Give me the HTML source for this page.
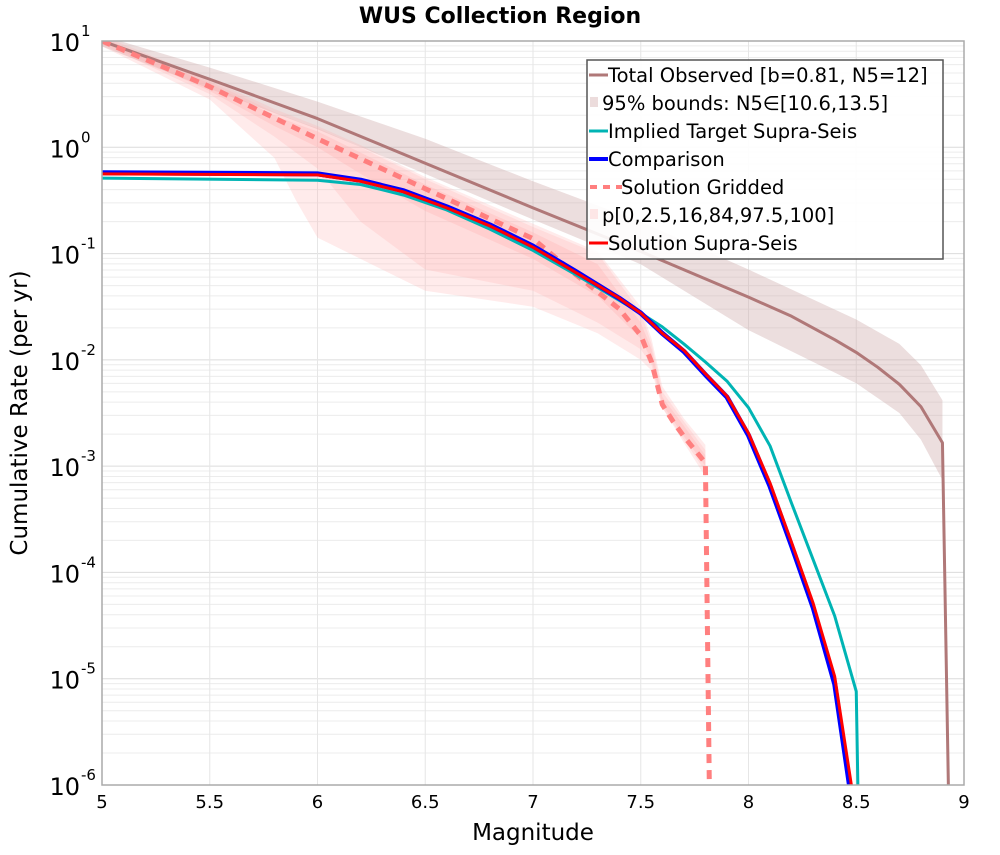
<!DOCTYPE html>
<html><head><meta charset="utf-8"><style>
body{margin:0;background:#fff;}
svg text{font-family:"DejaVu Sans","Liberation Sans",sans-serif;}
</style></head><body>
<svg id="chart" width="1000" height="850" xmlns="http://www.w3.org/2000/svg">
<rect width="1000" height="850" fill="#fff"/>
<text x="500" y="23" text-anchor="middle" font-size="22" font-weight="bold">WUS Collection Region</text>
<g id="grid"></g>
<g id="bands"></g>
<g id="lines"></g>
<rect x="102" y="41" width="862" height="744" fill="none" stroke="#aaa" stroke-width="1.5"/>
<g id="ticks"></g>
<text x="533" y="840" text-anchor="middle" font-size="23">Magnitude</text>
<text transform="translate(27,413) rotate(-90)" text-anchor="middle" font-size="23">Cumulative Rate (per yr)</text>
<g>
<rect x="587" y="60" width="356" height="199" fill="#fff" fill-opacity="0.9" stroke="#555" stroke-width="1.5"/>
<g font-size="19.5">
<line x1="589" y1="75" x2="608" y2="75" stroke="#b07878" stroke-width="3"/><text x="608" y="82">Total Observed [b=0.81, N5=12]</text>
<rect x="590" y="97" width="8" height="10" fill="#ecdcdc"/><text x="602" y="110">95% bounds: N5∈[10.6,13.5]</text>
<line x1="589" y1="131" x2="608" y2="131" stroke="#00b4b4" stroke-width="3"/><text x="608" y="138">Implied Target Supra-Seis</text>
<line x1="589" y1="159" x2="608" y2="159" stroke="#0000ff" stroke-width="4"/><text x="608" y="166">Comparison</text>
<line x1="590" y1="187" x2="622" y2="187" stroke="#ff7f7f" stroke-width="4" stroke-dasharray="7,6"/><text x="621" y="194">Solution Gridded</text>
<rect x="590" y="209" width="8" height="10" fill="#fde6e6"/><text x="602" y="222">p[0,2.5,16,84,97.5,100]</text>
<line x1="589" y1="243" x2="608" y2="243" stroke="#ff0000" stroke-width="3"/><text x="608" y="250">Solution Supra-Seis</text>
</g></g>
</svg>
<script>
const xTicks=[5,5.5,6,6.5,7,7.5,8,8.5,9];
const xTickLabels=["5","5.5","6","6.5","7","7.5","8","8.5","9"];
const yDecades=[1,0,-1,-2,-3,-4,-5,-6];
const obsM=[5,5.5,6,6.5,7,7.5,8,8.2,8.4,8.5,8.6,8.7,8.8,8.9,8.93];
const obsLog=[1.0,0.64,0.27,-0.15,-0.57,-0.98,-1.41,-1.59,-1.81,-1.93,-2.07,-2.23,-2.44,-2.78,-6.3];
const obsBoundM=[5,5.5,6,6.5,7,7.5,8,8.5,8.7,8.8,8.9];
const obsUpper=[1.05,0.75,0.43,0.08,-0.32,-0.7,-1.15,-1.62,-1.85,-2.05,-2.38];
const obsLower=[0.95,0.55,0.17,-0.25,-0.68,-1.1,-1.72,-2.22,-2.5,-2.75,-3.13];
const targM=[5,6,6.2,6.4,6.6,6.8,7.0,7.2,7.4,7.5,7.6,7.7,7.8,7.9,8.0,8.1,8.2,8.3,8.4,8.5,8.51];
const targLog=[-0.29,-0.31,-0.35,-0.45,-0.59,-0.77,-0.97,-1.20,-1.44,-1.56,-1.69,-1.85,-2.02,-2.20,-2.45,-2.81,-3.35,-3.88,-4.41,-5.12,-6.3];
const compM=[5,6,6.2,6.4,6.6,6.8,7.0,7.2,7.4,7.5,7.6,7.7,7.8,7.9,8.0,8.1,8.2,8.3,8.4,8.49];
const compLog=[-0.24,-0.25,-0.31,-0.41,-0.56,-0.73,-0.93,-1.17,-1.42,-1.56,-1.75,-1.92,-2.14,-2.35,-2.71,-3.19,-3.75,-4.33,-5.05,-6.3];
const solM=[5,6,6.2,6.4,6.6,6.8,7.0,7.2,7.4,7.5,7.6,7.7,7.8,7.9,8.0,8.1,8.2,8.3,8.4,8.5];
const solLog=[-0.25,-0.26,-0.32,-0.42,-0.57,-0.74,-0.94,-1.18,-1.42,-1.56,-1.75,-1.91,-2.13,-2.34,-2.69,-3.16,-3.72,-4.29,-4.98,-6.3];
const gridM=[5,5.5,6,6.5,7,7.2,7.4,7.5,7.55,7.6,7.65,7.7,7.8,7.82];
const gridLog=[1.0,0.57,0.08,-0.39,-0.86,-1.20,-1.52,-1.77,-2.02,-2.42,-2.58,-2.72,-2.97,-6.3];
const pM=[5,5.5,5.8,5.9,6,6.2,6.5,7,7.3,7.5,7.55,7.6,7.7,7.8];
const p0=[0.95,0.45,-0.1,-0.5,-0.85,-1.05,-1.35,-1.5,-1.75,-2.0,-2.1,-2.45,-2.78,-3.1];
const p2_5=[0.97,0.5,0.1,-0.05,-0.2,-0.7,-1.15,-1.35,-1.65,-1.9,-2.05,-2.45,-2.75,-3.05];
const p16=[0.99,0.53,0.2,0.1,0.0,-0.25,-0.6,-1.05,-1.4,-1.8,-2.0,-2.42,-2.72,-3.0];
const p84=[1.02,0.6,0.3,0.22,0.15,-0.05,-0.35,-0.8,-1.1,-1.65,-1.9,-2.35,-2.62,-2.9];
const p97_5=[1.03,0.62,0.33,0.25,0.18,0.0,-0.3,-0.75,-1.0,-1.55,-1.85,-2.3,-2.58,-2.85];
const p100=[1.05,0.64,0.36,0.28,0.2,0.02,-0.28,-0.72,-0.98,-1.5,-1.8,-2.25,-2.55,-2.8];

const X0=102,X1=964,Y0=41,Y1=785;
const sx=m=>X0+(m-5)/(9-5)*(X1-X0);
const sy=l=>{const c=Math.max(-6.3,Math.min(1.05,l));return Y0+(1-c)/7*(Y1-Y0);};
const NS='http://www.w3.org/2000/svg';
function mk(tag,parent,attrs){const e=document.createElementNS(NS,tag);for(const k in attrs)e.setAttribute(k,attrs[k]);parent.appendChild(e);return e;}
const grid=document.getElementById('grid'),bands=document.getElementById('bands'),lines=document.getElementById('lines'),ticks=document.getElementById('ticks');
const defs=mk('defs',document.getElementById('chart'),{});
const cp=mk('clipPath',defs,{id:'pc'});mk('rect',cp,{x:X0,y:Y0,width:X1-X0,height:Y1-Y0});
bands.setAttribute('clip-path','url(#pc)');lines.setAttribute('clip-path','url(#pc)');
for(let d=1;d>-6;d--){for(let k=1;k<10;k++){const y=sy(d-1+Math.log10(k));
const g=mk('line',grid,{x1:X0,x2:X1,y1:y,y2:y,stroke:k===1?'#dcdcdc':'#ececec','stroke-width':1});

}}
xTicks.forEach((m,i)=>{const x=sx(m);
const g=mk('line',grid,{x1:x,x2:x,y1:Y0,y2:Y1,stroke:'#e6e6e6','stroke-width':1});


const t=mk('text',ticks,{x:x,y:808,'text-anchor':'middle','font-size':18});t.textContent=xTickLabels[i];

});
yDecades.forEach(d=>{const y=sy(d);
const t=mk('text',ticks,{x:80,y:y+10,'text-anchor':'end','font-size':24});t.textContent='10';


const s=mk('text',ticks,{x:81,y:y-5,'font-size':15});s.textContent=d<0?'-'+(-d):String(d);

});
function band(ms,lo,hi,fill,op,name){let d='M'+ms.map((m,i)=>sx(m)+','+sy(hi[i])).join('L');
for(let i=ms.length-1;i>=0;i--)d+='L'+sx(ms[i])+','+sy(lo[i]);d+='Z';
const p=mk('path',bands,{d:d,fill:fill,'fill-opacity':op});

}
band(obsBoundM,obsLower,obsUpper,'#c8a0a0',0.35,'observed-95-band');
band(pM,p0,p100,'#ffb0b0',0.25,'band-p0-p100');
band(pM,p2_5,p97_5,'#ffb0b0',0.25,'band-p2.5-p97.5');
band(pM,p16,p84,'#ffb0b0',0.3,'band-p16-p84');
function line(ms,ls,stroke,w,name,dash){const d='M'+ms.map((m,i)=>sx(m)+','+sy(ls[i])).join('L');
const a={d:d,fill:'none',stroke:stroke,'stroke-width':w,'stroke-linejoin':'round'};if(dash)a['stroke-dasharray']=dash;
const p=mk('path',lines,a);

}
line(obsM,obsLog,'#b07878',3,'total-observed-line');
line(gridM,gridLog,'#ff7f7f',5,'solution-gridded-line','9,7');
line(targM,targLog,'#00b4b4',3,'implied-target-line');
line(compM,compLog,'#0000ff',5,'comparison-line');
line(solM,solLog,'#ff0000',3,'solution-supra-line');
</script>
</body></html>
